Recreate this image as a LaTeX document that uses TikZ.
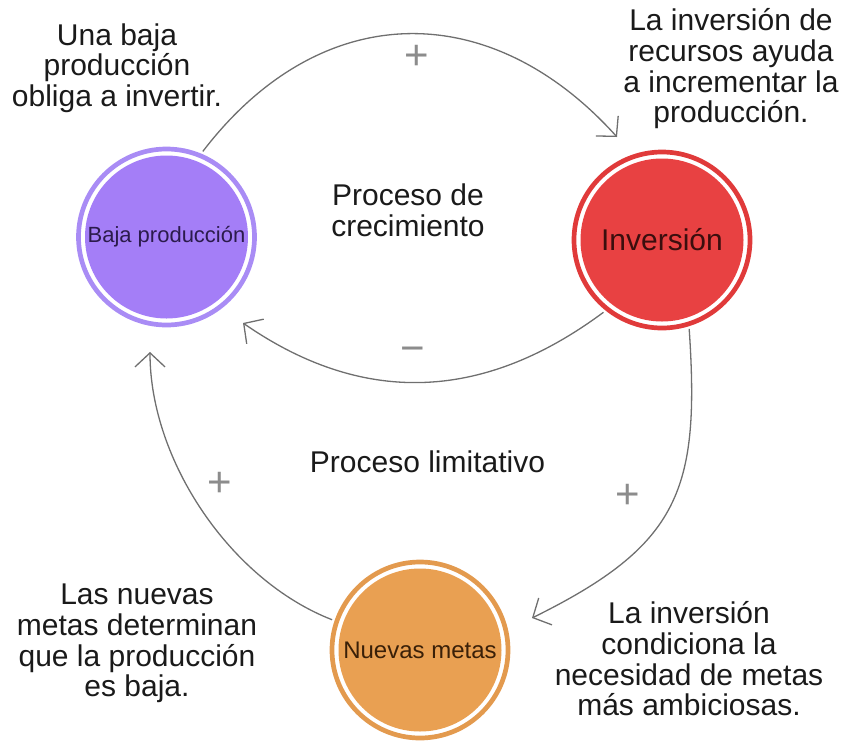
\documentclass[tikz,border=0pt]{standalone}
\usepackage{fontspec}
\setmainfont{Liberation Sans}
\usetikzlibrary{arrows.meta}
\definecolor{purplefill}{HTML}{A47EF7}
\definecolor{purplering}{HTML}{A98CF5}
\definecolor{redfill}{HTML}{E84142}
\definecolor{redring}{HTML}{E03A3A}
\definecolor{orangefill}{HTML}{E9A052}
\definecolor{orangering}{HTML}{E39A4E}
\definecolor{purpletext}{HTML}{2B1B4B}
\definecolor{redtext}{HTML}{3B0E0E}
\definecolor{orangetext}{HTML}{3A2008}
\definecolor{conncol}{HTML}{6F6F6F}
\definecolor{signcol}{HTML}{8C8C8C}
\definecolor{textcol}{HTML}{1A1A1A}
\tikzset{
  bubble/.style={circle, minimum size=163pt, inner sep=0pt, outer sep=11.5pt},
  ringline/.style={line width=4.7pt},
  note/.style={align=center, inner sep=0pt, text=textcol, font=\fontsize{30}{30.7}\selectfont},
  conn/.style={draw=conncol, line width=1.3pt, -{Straight Barb[length=14pt, width=30pt, line width=1.3pt]}},
  sign/.style={text=signcol, inner sep=0pt, font=\fontsize{42}{42}\selectfont}
}
\begin{document}
\begin{tikzpicture}[x=1pt, y=-1pt]
\useasboundingbox (0,0) rectangle (846,745);

% circles
\node[bubble, fill=purplefill, text=purpletext, font=\fontsize{22}{24}\selectfont] (baja) at (166.5,237) {Baja producción};
\draw[ringline, purplering] (baja.center) circle[radius=88pt];
\node[bubble, fill=redfill, text=redtext, font=\fontsize{30}{32}\selectfont] (inv) at (662,240) {Inversión};
\draw[ringline, redring] (inv.center) circle[radius=88pt];
\node[bubble, fill=orangefill, text=orangetext, font=\fontsize{24}{26}\selectfont] (nm) at (420,650) {Nuevas metas};
\draw[ringline, orangering] (nm.center) circle[radius=88pt];

% arrow end points
\coordinate (t1) at (617,137);
\coordinate (t2) at (243,323);
\coordinate (t3) at (532,618);
\coordinate (t4) at (150,352);

% connectors
\draw[conn] (baja.67.5) .. controls (321,-3) and (491,-3) .. (t1);
\draw[conn] (inv.231.5) .. controls (480,404) and (360,404) .. (t2);
\draw[conn] (inv.-73) .. controls (700,490) and (680,545) .. (t3);
\draw[conn] (nm.161) .. controls (230,580) and (150,460) .. (t4);

% signs
\node[sign] (s1) at (417,57) {+};
\node[sign] (s2) at (413,355) {−};
\node[sign] (s3) at (220,484) {+};
\node[sign] (s4) at (628,496) {+};

% texts
\node[note] (n1) at (117,68) {Una baja\\producción\\obliga a invertir.};
\node[note] (n2) at (731,69) {La inversión de\\recursos ayuda\\a incrementar la\\producción.};
\node[note] (n3) at (408,210.5) {Proceso de\\crecimiento};
\node[note] (n4) at (427.5,462) {Proceso limitativo};
\node[note] (n5) at (137,643.5) {Las nuevas\\metas determinan\\que la producción\\es baja.};
\node[note] (n6) at (689,659) {La inversión\\condiciona la\\necesidad de metas\\más ambiciosas.};
\end{tikzpicture}
\end{document}
